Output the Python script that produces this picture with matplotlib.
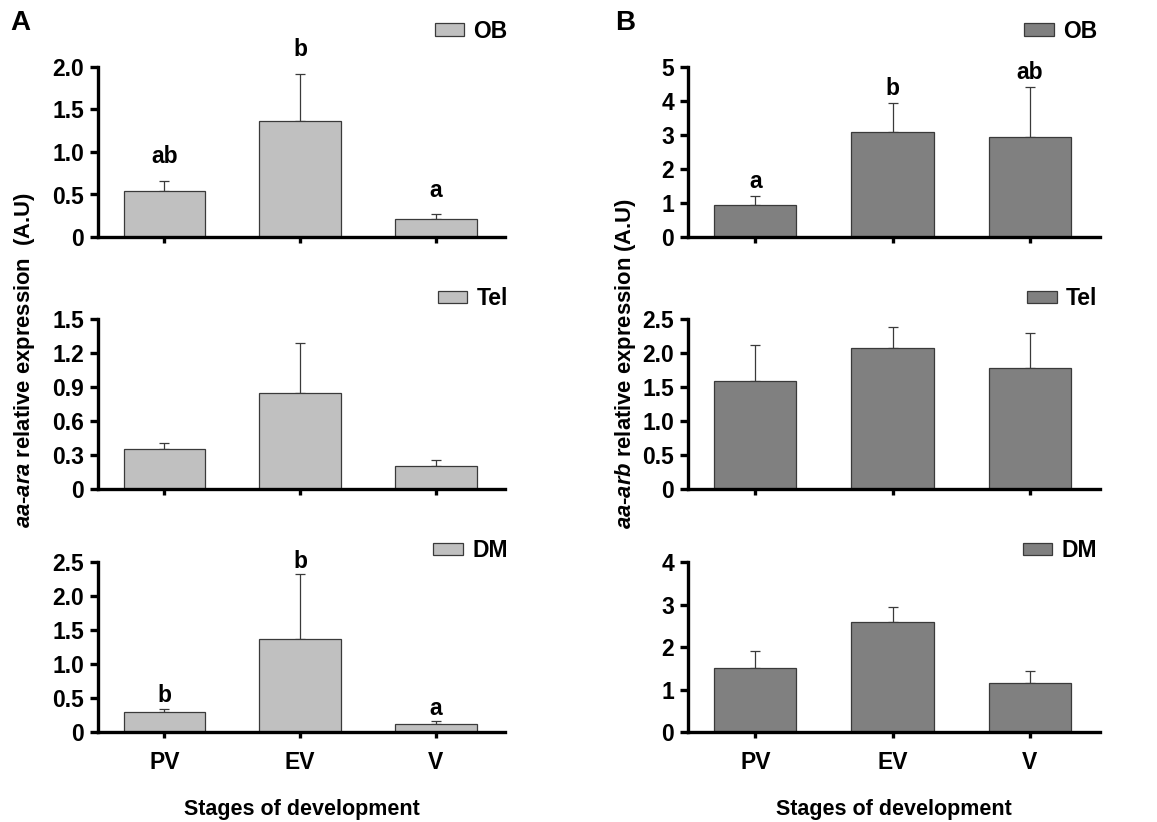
import numpy as np
import matplotlib
matplotlib.use("Agg")
import matplotlib.pyplot as plt

plt.rcParams['font.family'] = ['Liberation Sans', 'DejaVu Sans']
plt.rcParams['font.weight'] = 'bold'
plt.rcParams['mathtext.fontset'] = 'custom'
plt.rcParams['mathtext.it'] = 'Liberation Sans:italic:bold'
plt.rcParams['mathtext.rm'] = 'Liberation Sans:bold'

# data
stages = ['PV', 'EV', 'V']
tissues = ['OB', 'Tel', 'DM']

ara_mean = {'OB': [0.54, 1.37, 0.21], 'Tel': [0.35, 0.85, 0.20], 'DM': [0.30, 1.37, 0.12]}
ara_sem = {'OB': [0.12, 0.55, 0.06], 'Tel': [0.06, 0.44, 0.06], 'DM': [0.04, 0.95, 0.04]}
ara_letters = {'OB': ['ab', 'b', 'a'], 'Tel': None, 'DM': ['b', 'b', 'a']}
ara_ticks = {'OB': [0, 0.5, 1.0, 1.5, 2.0], 'Tel': [0, 0.3, 0.6, 0.9, 1.2, 1.5],
             'DM': [0, 0.5, 1.0, 1.5, 2.0, 2.5]}
ara_ticklabels = {'OB': ['0', '0.5', '1.0', '1.5', '2.0'],
                  'Tel': ['0', '0.3', '0.6', '0.9', '1.2', '1.5'],
                  'DM': ['0', '0.5', '1.0', '1.5', '2.0', '2.5']}

arb_mean = {'OB': [0.95, 3.08, 2.94], 'Tel': [1.59, 2.08, 1.78], 'DM': [1.50, 2.60, 1.16]}
arb_sem = {'OB': [0.25, 0.86, 1.47], 'Tel': [0.53, 0.30, 0.51], 'DM': [0.40, 0.34, 0.28]}
arb_letters = {'OB': ['a', 'b', 'ab'], 'Tel': None, 'DM': None}
arb_ticks = {'OB': [0, 1, 2, 3, 4, 5], 'Tel': [0, 0.5, 1.0, 1.5, 2.0, 2.5], 'DM': [0, 1, 2, 3, 4]}
arb_ticklabels = {'OB': ['0', '1', '2', '3', '4', '5'],
                  'Tel': ['0', '0.5', '1.0', '1.5', '2.0', '2.5'],
                  'DM': ['0', '1', '2', '3', '4']}

W, H = 1157, 822
fig = plt.figure(figsize=(W / 100, H / 100), dpi=100)

rows_top = [67, 319, 562]
ax_h = 170
legend_y = {'OB': 1.21, 'Tel': 1.12, 'DM': 1.065}
letter_off = {('A', 'OB'): 24, ('A', 'DM'): 13, ('B', 'OB'): 15}

fs = 16.5


def panel(ax, mean, sem, color, tissue, ticks, ticklabels, letters, off, show_x, leg_x):
    x = np.arange(len(stages))
    bars = ax.bar(x, mean, width=0.6, color=color, edgecolor='#3a3a3a', linewidth=0.9,
                  label=tissue, zorder=2)
    ax.errorbar(x, mean, yerr=[np.zeros(len(mean)), sem], fmt='none', ecolor='#3a3a3a',
                elinewidth=0.9, capsize=3.5, capthick=0.9, zorder=1)
    ax.set_xlim(-0.49, 2.51)
    ax.set_ylim(0, ticks[-1])
    ax.set_yticks(ticks)
    ax.set_yticklabels(ticklabels)
    ax.set_xticks(x)
    if show_x:
        ax.set_xticklabels(stages)
        ax.set_xlabel('Stages of development', fontsize=15.5, fontweight='bold', labelpad=18)
    else:
        ax.set_xticklabels([])
    for s in ['top', 'right']:
        ax.spines[s].set_visible(False)
    for s in ['left', 'bottom']:
        ax.spines[s].set_linewidth(2.4)
    ax.tick_params(axis='y', length=6, width=2.4, labelsize=fs, pad=4)
    ax.tick_params(axis='x', length=4, width=2.4, labelsize=fs, pad=10)
    for lab in ax.get_xticklabels() + ax.get_yticklabels():
        lab.set_fontweight('bold')
    if letters:
        for xi, m, e, t in zip(x, mean, sem, letters):
            ax.annotate(t, (xi, m + e), xytext=(0, off), textcoords='offset pixels',
                        ha='center', va='center', fontsize=fs, fontweight='bold')
    leg = ax.legend(handles=[bars], loc='center right', bbox_to_anchor=(leg_x, legend_y[tissue]),
                    frameon=False, fontsize=fs, handlelength=1.3, handleheight=0.45,
                    handletextpad=0.4, borderpad=0, borderaxespad=0)
    for t in leg.get_texts():
        t.set_fontweight('bold')


for i, tissue in enumerate(tissues):
    bottom = 1 - (rows_top[i] + ax_h) / H
    axA = fig.add_axes([98 / W, bottom, 407 / W, ax_h / H])
    panel(axA, ara_mean[tissue], ara_sem[tissue], '#c0c0c0', tissue, ara_ticks[tissue],
          ara_ticklabels[tissue], ara_letters[tissue], letter_off.get(('A', tissue), 13),
          i == 2, 1.007)
    axB = fig.add_axes([688 / W, bottom, 412 / W, ax_h / H])
    panel(axB, arb_mean[tissue], arb_sem[tissue], '#808080', tissue, arb_ticks[tissue],
          arb_ticklabels[tissue], arb_letters[tissue], letter_off.get(('B', tissue), 13),
          i == 2, 0.993)

fig.text(10 / W, 1 - 23 / H, 'A', fontsize=20, fontweight='bold', va='center', ha='left')
fig.text(615 / W, 1 - 23 / H, 'B', fontsize=20, fontweight='bold', va='center', ha='left')

fig.text(25 / W, 1 - 360 / H, r'$\mathit{aa}$-$\mathit{ara}$ relative expression  (A.U)',
         rotation=90, fontsize=15.8, fontweight='bold', ha='center', va='center')
fig.text(625 / W, 1 - 363 / H, r'$\mathit{aa}$-$\mathit{arb}$ relative expression (A.U)',
         rotation=90, fontsize=15.8, fontweight='bold', ha='center', va='center')

fig.savefig('out.png', dpi=100)
